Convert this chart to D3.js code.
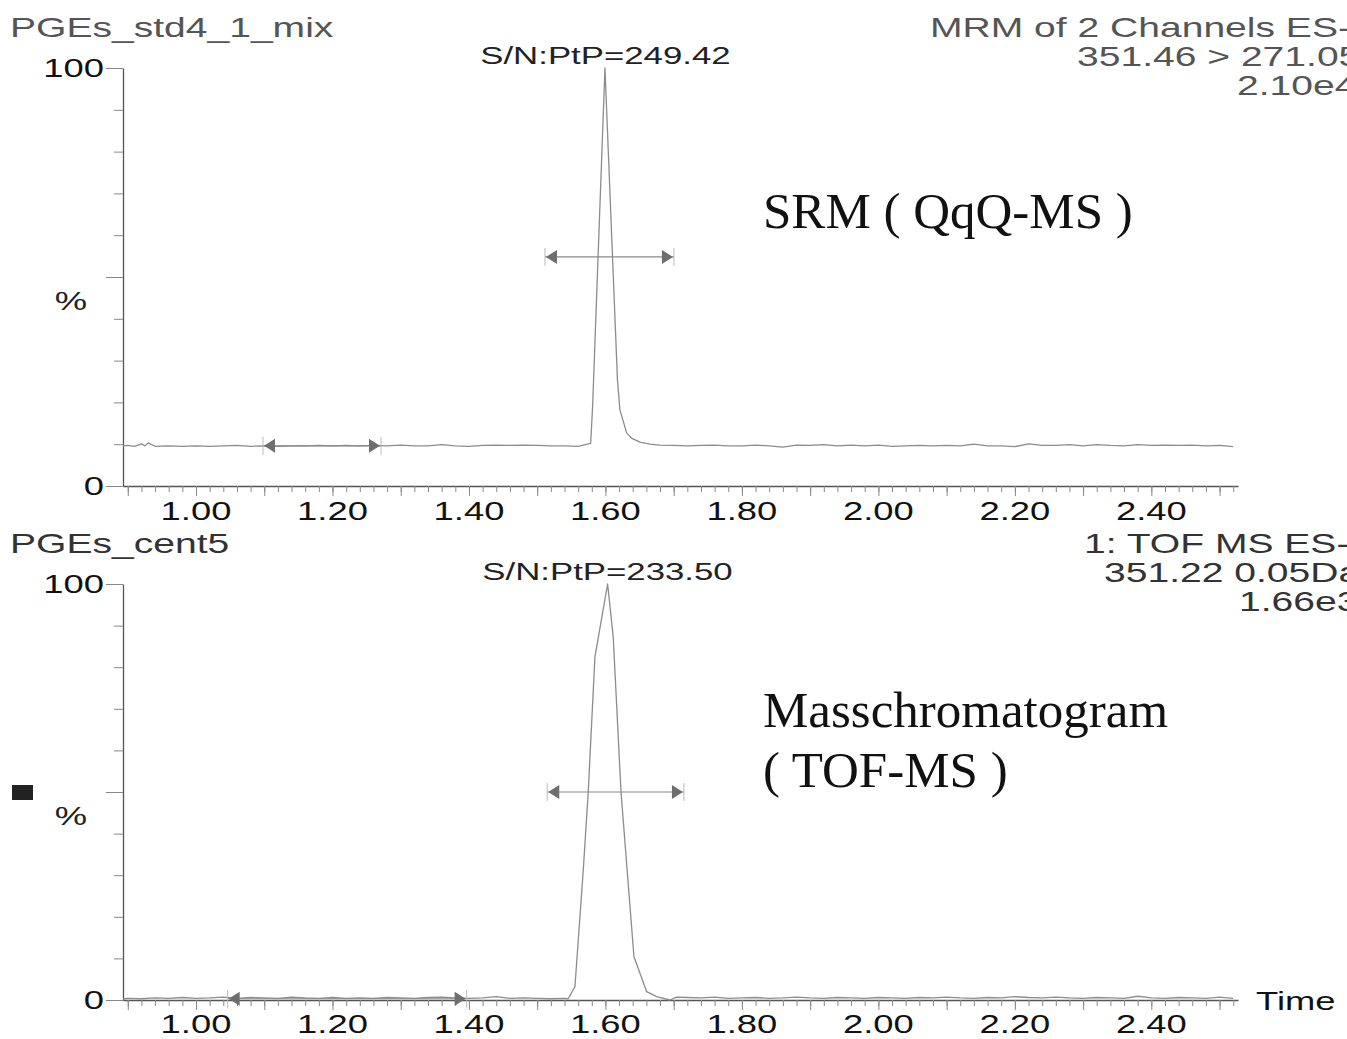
<!DOCTYPE html>
<html>
<head>
<meta charset="utf-8">
<script src="https://cdn.jsdelivr.net/npm/d3@7"></script>
<style>
  body { margin: 0; background: #fff; }
</style>
</head>
<body>
<div id="chart"></div>
<script>
// SRM (QqQ-MS) trace, % intensity against retention time (min)
const srmTime = [0.893, 0.90, 0.91, 0.92, 0.925, 0.93, 0.94, 0.96, 0.98, 1.00, 1.02, 1.04, 1.06, 1.08,
  1.10, 1.12, 1.14, 1.16, 1.18, 1.20, 1.22, 1.24, 1.26, 1.28, 1.30, 1.32, 1.34, 1.36, 1.38, 1.40,
  1.42, 1.44, 1.46, 1.48, 1.50, 1.52, 1.54, 1.56, 1.5783, 1.5812, 1.5993, 1.6176, 1.6212, 1.6311,
  1.6388, 1.6505, 1.6652, 1.68, 1.70, 1.72, 1.74, 1.76, 1.78, 1.80, 1.82, 1.84, 1.86, 1.88, 1.90,
  1.92, 1.94, 1.96, 1.98, 2.00, 2.02, 2.04, 2.06, 2.08, 2.10, 2.12, 2.14, 2.16, 2.18, 2.20, 2.22,
  2.24, 2.26, 2.28, 2.30, 2.32, 2.34, 2.36, 2.38, 2.40, 2.42, 2.44, 2.46, 2.48, 2.50, 2.52];
const srmValue = [9.6, 9.7, 9.5, 10.1, 9.6, 10.3, 9.5, 9.6, 9.5, 9.6, 9.5, 9.6, 9.7, 9.5,
  9.6, 9.5, 9.6, 9.6, 9.7, 9.6, 9.7, 9.6, 9.7, 9.6, 9.8, 9.6, 9.6, 9.9, 9.6, 9.5,
  9.7, 9.8, 9.7, 9.8, 9.7, 9.6, 9.6, 9.5, 10.2, 19.0, 100, 25.4, 18.2, 12.7,
  11.4, 10.5, 10.0, 9.8, 9.7, 9.6, 9.7, 9.8, 9.6, 9.6, 9.8, 9.6, 9.3, 9.8, 9.7,
  9.9, 9.6, 9.8, 9.6, 9.8, 9.5, 9.6, 9.7, 9.6, 9.7, 9.6, 10.0, 9.6, 9.6, 9.4, 10.1,
  9.7, 9.7, 9.9, 9.6, 9.9, 9.7, 9.6, 9.9, 9.7, 9.8, 9.7, 9.8, 9.6, 9.7, 9.4];

// TOF-MS mass chromatogram trace
const tofTime = [0.893, 0.90, 0.92, 0.94, 0.96, 0.98, 1.00, 1.02, 1.04, 1.06, 1.08, 1.10, 1.12,
  1.14, 1.16, 1.18, 1.20, 1.22, 1.24, 1.26, 1.28, 1.30, 1.32, 1.34, 1.36, 1.38, 1.40, 1.42, 1.44,
  1.46, 1.48, 1.50, 1.52, 1.54, 1.5455, 1.5553, 1.5675, 1.5748, 1.5846, 1.6032, 1.6114, 1.6228,
  1.6418, 1.6604, 1.675, 1.6945, 1.7043, 1.72, 1.74, 1.76, 1.78, 1.80, 1.82, 1.84, 1.86, 1.88,
  1.90, 1.92, 1.94, 1.96, 1.98, 2.00, 2.02, 2.04, 2.06, 2.08, 2.10, 2.12, 2.14, 2.16, 2.18, 2.20,
  2.22, 2.24, 2.26, 2.28, 2.30, 2.32, 2.34, 2.36, 2.38, 2.40, 2.42, 2.44, 2.46, 2.48, 2.50, 2.52];
const tofValue = [0.3, 0.4, 0.3, 0.5, 0.4, 0.6, 0.4, 0.5, 0.7, 0.4, 0.6, 0.5, 0.4,
  0.7, 0.5, 0.4, 0.6, 0.4, 0.5, 0.4, 0.6, 0.5, 0.4, 0.6, 0.7, 0.5, 0.4, 0.5, 0.8,
  0.4, 0.5, 0.4, 0.3, 0.4, 0.3, 3.2, 31.2, 50, 82.5, 100, 87.3, 50,
  10.4, 2.0, 0.8, 0.0, 0.7, 0.6, 0.5, 0.7, 0.4, 0.5, 0.6, 0.4, 0.5, 0.7,
  0.5, 0.4, 0.6, 0.5, 0.4, 0.6, 0.5, 0.4, 0.6, 0.5, 0.7, 0.5, 0.4, 0.6, 0.5, 0.8,
  0.6, 0.5, 0.7, 0.5, 0.4, 0.6, 0.5, 0.4, 0.9, 0.5, 0.4, 0.6, 0.5, 0.4, 0.7, 0.4];

// peak-width and noise-window markers: [start, end, level %]
const srmMarkers = [[1.5114, 1.7004, 54.8], [1.0982, 1.2711, 9.6]];
const tofMarkers = [[1.5147, 1.7150, 50.0], [1.0464, 1.3966, 0.3]];

const xTickLabels = [1.00, 1.20, 1.40, 1.60, 1.80, 2.00, 2.20, 2.40];
const yTickLabels = [0, 100];

const width = 1347;
const height = 1039;
const sans = '"Liberation Sans", Arial, sans-serif';
const serif = '"Liberation Serif", "Times New Roman", serif';

const svg = d3.select('#chart')
  .append('svg')
  .attr('width', width)
  .attr('height', height);

const x = d3.scaleLinear().domain([0.893, 2.527]).range([123, 1238]);

// widened sans text, as in the source screenshot
function label(px, py, str, size, color, anchor, sx) {
  return svg.append('text')
    .attr('transform', `translate(${px},${py}) scale(${sx || 1.4},1)`)
    .attr('text-anchor', anchor || 'start')
    .style('font-family', sans)
    .style('font-size', size + 'px')
    .style('fill', color)
    .text(str);
}

function drawPanel(cfg) {
  const y = d3.scaleLinear().domain([0, 100]).range([cfg.y0, cfg.y100]);

  // x axis: minor ticks every 0.02, longer every 0.1
  const minor = d3.range(45, 127).map(i => i / 50);
  const major = d3.range(9, 26).map(i => i / 10);
  svg.append('g')
    .attr('transform', `translate(0,${cfg.y0})`)
    .call(d3.axisBottom(x).tickValues(minor).tickSize(6).tickSizeOuter(0).tickFormat(''))
    .call(g => g.select('.domain').attr('stroke', '#555').attr('stroke-width', 1.3))
    .call(g => g.selectAll('.tick line').attr('stroke', '#888'));
  svg.append('g')
    .attr('transform', `translate(0,${cfg.y0})`)
    .call(d3.axisBottom(x).tickValues(major).tickSize(10).tickSizeOuter(0).tickFormat(''))
    .call(g => g.select('.domain').remove())
    .call(g => g.selectAll('.tick line').attr('stroke', '#888'));

  // y axis: ticks every 10 %, longer at 0/50/100
  svg.append('g')
    .attr('transform', 'translate(123,0)')
    .call(d3.axisLeft(y).tickValues(d3.range(0, 101, 10)).tickSize(9).tickSizeOuter(0).tickFormat(''))
    .call(g => g.select('.domain').attr('stroke', '#555').attr('stroke-width', 1.3))
    .call(g => g.selectAll('.tick line').attr('stroke', '#888'));
  svg.append('g')
    .attr('transform', 'translate(123,0)')
    .call(d3.axisLeft(y).tickValues([0, 50, 100]).tickSize(17).tickSizeOuter(0).tickFormat(''))
    .call(g => g.select('.domain').remove())
    .call(g => g.selectAll('.tick line').attr('stroke', '#888'));

  xTickLabels.forEach(v => label(x(v), cfg.y0 + cfg.xLabelDy, v.toFixed(2), 26, '#111', 'middle'));
  yTickLabels.forEach(v => label(104, y(v) + 9, String(v), 26, '#111', 'end'));
  label(71, y(50) + 33, '%', 26, '#222', 'middle');

  // trace
  const line = d3.line()
    .x(d => x(d[0]))
    .y(d => y(d[1]));
  svg.append('path')
    .datum(d3.zip(cfg.time, cfg.value))
    .attr('d', line)
    .attr('fill', 'none')
    .attr('stroke', '#8c8c8c')
    .attr('stroke-width', 1.3)
    .attr('stroke-linejoin', 'round');

  // double arrows
  cfg.markers.forEach(m => {
    const x0 = x(m[0]), x1 = x(m[1]), ym = y(m[2]);
    svg.append('line')
      .attr('x1', x0).attr('x2', x1).attr('y1', ym).attr('y2', ym)
      .attr('stroke', '#8a8a8a').attr('stroke-width', 1.2);
    [x0, x1].forEach(xb => svg.append('line')
      .attr('x1', xb).attr('x2', xb).attr('y1', ym - 9).attr('y2', ym + 9)
      .attr('stroke', '#bbb').attr('stroke-width', 1));
    svg.append('path')
      .attr('d', `M${x0 + 1},${ym} L${x0 + 12},${ym - 7} L${x0 + 12},${ym + 7} Z`)
      .attr('fill', '#6e6e6e');
    svg.append('path')
      .attr('d', `M${x1 - 1},${ym} L${x1 - 12},${ym - 7} L${x1 - 12},${ym + 7} Z`)
      .attr('fill', '#6e6e6e');
  });

  label(x(cfg.snAt), cfg.y100 - 4, cfg.sn, 24, '#222', 'middle', 1.45);
}

drawPanel({
  y0: 486, y100: 68, xLabelDy: 34,
  time: srmTime, value: srmValue, markers: srmMarkers,
  sn: 'S/N:PtP=249.42', snAt: 1.60
});
drawPanel({
  y0: 1000, y100: 584, xLabelDy: 33,
  time: tofTime, value: tofValue, markers: tofMarkers,
  sn: 'S/N:PtP=233.50', snAt: 1.603
});

// header texts
label(10, 37, 'PGEs_std4_1_mix', 27.5, '#555', 'start', 1.42);
label(930, 37, 'MRM of 2 Channels ES-', 27.5, '#555', 'start', 1.42);
label(1077, 66, '351.46 > 271.05', 27.5, '#555', 'start', 1.42);
label(1237, 95, '2.10e4', 27.5, '#555', 'start', 1.42);
label(10, 553, 'PGEs_cent5', 27.5, '#333', 'start', 1.42);
label(1084, 553, '1: TOF MS ES-', 27.5, '#333', 'start', 1.42);
label(1104, 582, '351.22 0.05Da', 27.5, '#333', 'start', 1.42);
label(1239, 611, '1.66e3', 27.5, '#333', 'start', 1.42);
label(1256, 1010, 'Time', 26, '#111');

svg.append('rect')
  .attr('x', 12).attr('y', 785).attr('width', 21).attr('height', 15)
  .attr('fill', '#222');

// annotations added on top of the screenshot
function note(px, py, str) {
  svg.append('text')
    .attr('x', px).attr('y', py)
    .style('font-family', serif)
    .style('font-size', '51px')
    .style('fill', '#111')
    .text(str);
}
note(763, 228, 'SRM ( QqQ-MS )');
note(763, 727, 'Masschromatogram');
note(763, 787, '( TOF-MS )');
</script>
</body>
</html>
